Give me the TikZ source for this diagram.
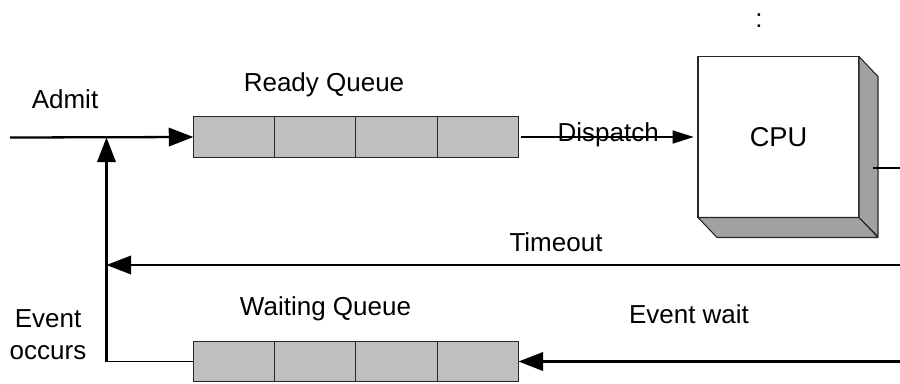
\documentclass[tikz,border=0pt]{standalone}
\usepackage{fontspec}
\setmainfont{Liberation Sans}
\usetikzlibrary{positioning,arrows.meta}

\begin{document}
\begin{tikzpicture}[x=0.02cm, y=-0.02cm,
    cell/.style={draw=black!85, fill=black!25, line width=0.6pt,
        minimum width=1.626cm, minimum height=0.81cm, inner sep=0pt, outer sep=0pt},
    cpubox/.style={draw=black!85, fill=white, line width=0.6pt,
        minimum size=3.22cm, inner sep=0pt, outer sep=0pt,
        font=\fontsize{15.5}{18}\selectfont},
    side/.style={fill=black!37, draw=black!85, line width=0.6pt, line join=round},
    lbl/.style={font=\fontsize{14.8}{18.1}\selectfont, anchor=base, inner sep=0pt},
    flow/.style={line width=1.3pt, -{Triangle[length=14pt,width=10.5pt]}}]

    \useasboundingbox (0,0) rectangle (900,383);

    % ===== Ready queue =====
    \node[cell] (rq1) at (234,137) {};
    \node[cell, right=0pt of rq1] (rq2) {};
    \node[cell, right=0pt of rq2] (rq3) {};
    \node[cell, right=0pt of rq3] (rq4) {};

    % ===== Waiting queue =====
    \node[cell] (wq1) at (234,361.5) {};
    \node[cell, right=0pt of wq1] (wq2) {};
    \node[cell, right=0pt of wq2] (wq3) {};
    \node[cell, right=0pt of wq3] (wq4) {};

    % ===== CPU (box with depth) =====
    \node[cpubox] (cpu) at (778.5,137) {CPU};
    \filldraw[side] (cpu.north east) -- ++(19,20) -- ++(0,160) -- (cpu.south east) -- cycle;
    \filldraw[side] (cpu.south west) -- ++(19,20) -- ++(161,0) -- (cpu.south east) -- cycle;

    % ===== Free ends =====
    \coordinate (admit) at (10,137.5);
    \coordinate (join) at (106.5,137.5);
    \coordinate (corner) at (106.5,361.5);
    \coordinate (tright) at (900,265);
    \coordinate (eright) at (900,361.5);
    \coordinate (cpuside) at (873,168);
    \coordinate (cpuout) at (900,168);

    % ===== Connectors =====
    \draw[flow] (admit) -- (rq1.west);
    \draw[line width=0.6pt, shorten <=1.5pt, shorten >=2.5pt,
        -{Triangle[length=12pt,width=7.5pt]}]
        (rq4.east) -- node[lbl, yshift=-2.5pt] (displbl) {Dispatch} (cpu.west);
    \draw[line width=1.3pt] (cpuside) -- (cpuout);
    \draw[flow] (tright) -- (tright -| join);
    \draw[flow] (eright) -- (wq4.east);
    \draw[line width=0.7pt] (wq1.west) -- ([xshift=-0.3pt]corner);
    \draw[flow] ([yshift=-0.35pt]corner) -- (join);

    % ===== Labels =====
    \node[lbl] (dots) at (759,27) {:};
    \node[lbl] (admitlbl) at (65,108.3) {Admit};
    \node[lbl] (rqlbl) at (324,91.7) {Ready Queue};
    \node[lbl] (tolbl) at (556,251) {Timeout};
    \node[lbl] (wqlbl) at (325.5,315) {Waiting Queue};
    \node[lbl] (ewlbl) at (689,323.3) {Event wait};
    \node[lbl, align=center] (eolbl) at (48,359) {Event\\occurs};

\end{tikzpicture}
\end{document}
